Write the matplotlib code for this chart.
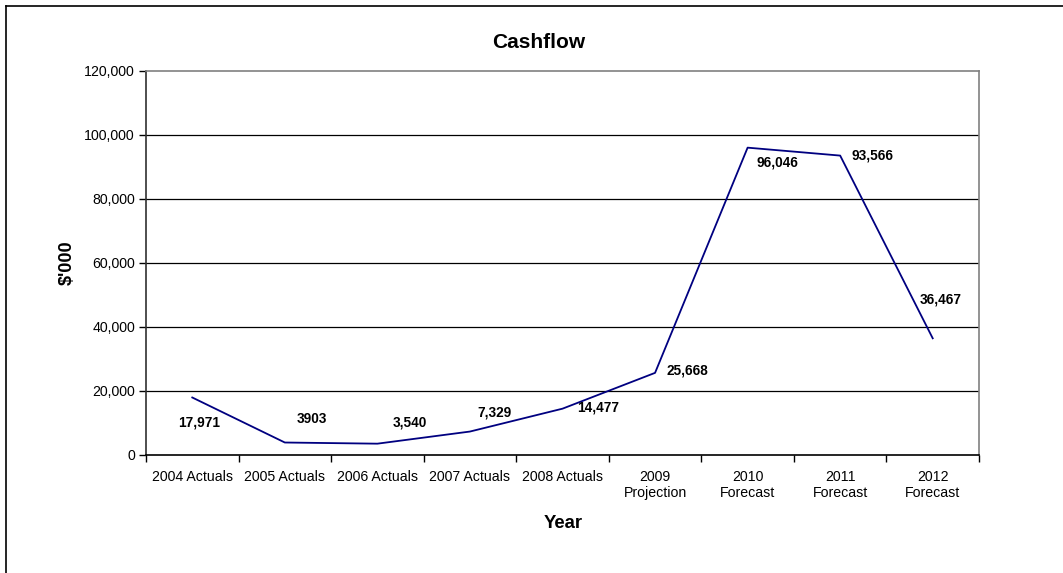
import matplotlib.pyplot as plt
from matplotlib.ticker import FuncFormatter
from matplotlib.lines import Line2D

plt.rcParams['font.family'] = ['Liberation Sans', 'DejaVu Sans']

# data
categories = ['2004 Actuals', '2005 Actuals', '2006 Actuals', '2007 Actuals', '2008 Actuals',
              '2009\nProjection', '2010\nForecast', '2011\nForecast', '2012\nForecast']
cashflow = [17971, 3903, 3540, 7329, 14477, 25668, 96046, 93566, 36467]
point_labels = ['17,971', '3903', '3,540', '7,329', '14,477', '25,668', '96,046', '93,566', '36,467']
# label offsets in pixels (dx, dy) from each point
label_offsets = [(7, -25), (27, 24), (32, 21), (25, 19), (36, 1), (32, 2), (30, -15), (32, 0), (8, 39)]

W, H = 1063, 573
fig = plt.figure(figsize=(W / 100, H / 100), dpi=100)
ax = fig.add_axes([146 / W, 1 - 455 / H, (979 - 146) / W, (455 - 71) / H])

x = [i + 0.5 for i in range(len(cashflow))]
ax.plot(x, cashflow, color='#000080', linewidth=1.3)

for xi, yi, txt, (dx, dy) in zip(x, cashflow, point_labels, label_offsets):
    ax.annotate(txt, (xi, yi), xytext=(dx, dy), textcoords='offset pixels',
                ha='center', va='center', fontsize=9.8, fontweight='bold')

ax.set_xlim(0, len(cashflow))
ax.set_ylim(0, 120000)
ax.set_yticks(range(0, 120001, 20000))
ax.yaxis.set_major_formatter(FuncFormatter(lambda v, p: f'{int(v):,}'))
ax.set_xticks(range(len(cashflow) + 1))
ax.set_xticklabels([])
ax.set_xticks(x, minor=True)
ax.set_xticklabels(categories, minor=True, linespacing=1.25)
ax.tick_params(axis='x', which='minor', length=0, pad=10.5, labelsize=10.2)
ax.tick_params(axis='x', which='major', length=5, width=1, color='black', direction='out')
ax.tick_params(axis='y', length=5, width=1, labelsize=10.2, pad=3)

for v in range(20000, 120000, 20000):
    ax.axhline(v, color='black', linewidth=0.9, zorder=0)

ax.spines['top'].set_color('#808080')
ax.spines['right'].set_color('#808080')
ax.spines['left'].set_color('#303030')
ax.spines['bottom'].set_color('black')
for s in ax.spines.values():
    s.set_linewidth(1.2)

fig.text(539 / W, 1 - 43 / H, 'Cashflow', fontsize=15, fontweight='bold', ha='center', va='center')
fig.text(563 / W, 1 - 523 / H, 'Year', fontsize=13.3, fontweight='bold', ha='center', va='center')
fig.text(67 / W, 1 - 263 / H, "$'000", fontsize=13, fontweight='bold', ha='center', va='center',
         rotation=90)

# outer chart frame (top and left edges visible)
fig.add_artist(Line2D([6 / W, 6 / W], [0, 1 - 6 / H], color='black', linewidth=1.2))
fig.add_artist(Line2D([6 / W, 1], [1 - 6 / H, 1 - 6 / H], color='black', linewidth=1.2))

fig.savefig('out.png', dpi=100)
